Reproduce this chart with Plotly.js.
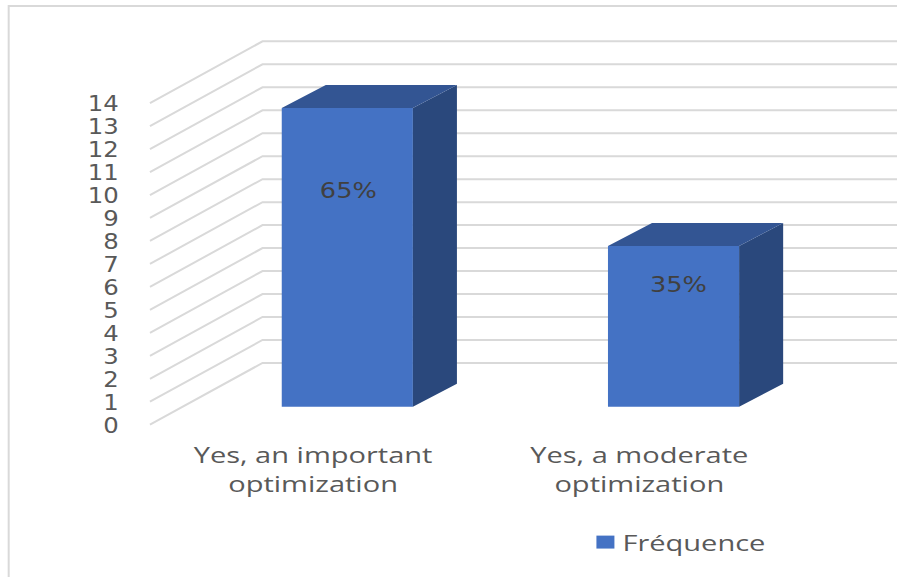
<!DOCTYPE html>
<html>
<head>
<meta charset="utf-8">
<script src="https://cdn.plot.ly/plotly-3.0.1.min.js"></script>
<style>html,body{margin:0;padding:0;background:#fff}#chart{width:897px;height:577px}</style>
</head>
<body>
<div id="chart"></div>
<script>
const categories = ['Yes, an important<br>optimization', 'Yes, a moderate<br>optimization'];
const frequencies = [13, 7];
const valueTicks = [0, 1, 2, 3, 4, 5, 6, 7, 8, 9, 10, 11, 12, 13, 14];
const seriesName = 'Fréquence';

// Oblique projection of the box, in axis units
const wallDx = 0.345, wallDy = 2.69;     // front plane to back wall
const barDx = 0.135, barDy = 1.0;        // depth of each column
const floorDx = 0.105, floorDy = 0.785;  // front plane to column base
const barWidth = 0.402;
const xMax = 1.79, yMax = 18.49;
const family = 'Open Sans';
const digitFamily = 'DejaVu Sans';

const total = frequencies.reduce((a, b) => a + b, 0);
const positions = categories.map((_, i) => i);
const lefts = positions.map(p => p + floorDx - barWidth / 2);
const rights = lefts.map(l => l + barWidth);

// Shaded faces of a column, as closed polygons separated by gaps
function facePolygons(corners) {
  const xs = [], ys = [];
  frequencies.forEach((v, i) => {
    corners(i, v).forEach(([x, y]) => { xs.push(x); ys.push(y); });
    xs.push(null); ys.push(null);
  });
  return {x: xs, y: ys};
}
const topFace = facePolygons((i, v) => {
  const y = floorDy + v;
  return [[lefts[i], y], [rights[i], y], [rights[i] + barDx, y + barDy], [lefts[i] + barDx, y + barDy], [lefts[i], y]];
});
const sideFace = facePolygons((i, v) => {
  const y = floorDy + v;
  return [[rights[i], floorDy], [rights[i], y], [rights[i] + barDx, y + barDy], [rights[i] + barDx, floorDy + barDy], [rights[i], floorDy]];
});

const front = {
  type: 'bar', name: seriesName, x: positions, y: frequencies,
  base: floorDy, width: barWidth, offset: floorDx - barWidth / 2,
  marker: {color: '#4472c4', line: {width: 0}}, hoverinfo: 'skip'
};
const top3d = {
  type: 'scatter', mode: 'lines', x: topFace.x, y: topFace.y, fill: 'toself',
  fillcolor: '#335593', line: {width: 0, color: '#335593'}, showlegend: false, hoverinfo: 'skip'
};
const side3d = {
  type: 'scatter', mode: 'lines', x: sideFace.x, y: sideFace.y, fill: 'toself',
  fillcolor: '#2a487c', line: {width: 0, color: '#2a487c'}, showlegend: false, hoverinfo: 'skip'
};
const percentLabels = {
  type: 'scatter', mode: 'text',
  x: positions.map((p, i) => p + floorDx + (i ? 0.015 : 0.003)),
  y: [10.1, 6.02],
  text: frequencies.map(v => Math.round(v / total * 100) + '%'),
  textposition: 'middle center',
  textfont: {family: digitFamily, size: 21, color: '#404040'},
  showlegend: false, hoverinfo: 'skip', cliponaxis: false
};

// Wall and floor rules running back from the value axis
const rules = valueTicks.map(v => ({
  type: 'path', layer: 'below', xref: 'x', yref: 'y',
  path: `M -0.5 ${v} L ${-0.5 + wallDx} ${v + wallDy} L ${xMax} ${v + wallDy}`,
  line: {color: '#d9d9d9', width: 2}
}));
const frame = {
  type: 'path', layer: 'below', xref: 'paper', yref: 'paper',
  path: 'M -0.186 -0.36 L -0.186 0.986 L 1.01 0.986',
  line: {color: '#d9d9d9', width: 2}
};

// Widen the lettering around each label's own anchor point
function widen(selector, factor, dy) {
  document.querySelectorAll(selector).forEach(t => {
    const x = parseFloat(t.getAttribute('x')) || 0;
    const prior = t.getAttribute('transform') || '';
    t.setAttribute('transform', `${prior} translate(${x},${dy || 0}) scale(${factor},1) translate(${-x},0)`);
  });
}

Plotly.newPlot('chart', [front, side3d, top3d, percentLabels], {
  width: 897, height: 577,
  margin: {l: 148, r: 0, t: 0, b: 150, pad: 0},
  paper_bgcolor: '#ffffff', plot_bgcolor: '#ffffff',
  font: {family: family, size: 22, color: '#595959'},
  xaxis: {
    range: [-0.506, xMax], tickmode: 'array', tickvals: positions, ticktext: categories,
    showgrid: false, zeroline: false, showline: false, fixedrange: true,
    ticks: 'outside', ticklen: 9, tickcolor: 'rgba(0,0,0,0)', tickangle: 0,
    tickfont: {family: family, size: 22, color: '#595959'}
  },
  yaxis: {
    range: [-0.1, yMax], tickmode: 'array', tickvals: valueTicks, ticktext: valueTicks.map(String),
    showgrid: false, zeroline: false, showline: false, fixedrange: true,
    ticks: 'outside', ticklen: 24, tickcolor: 'rgba(0,0,0,0)',
    tickfont: {family: digitFamily, size: 21, color: '#595959'}
  },
  shapes: rules.concat([frame]),
  showlegend: true,
  legend: {
    x: 0.58, xanchor: 'left', y: -0.27, yanchor: 'middle',
    font: {family: family, size: 22, color: '#595959'},
    bgcolor: 'rgba(0,0,0,0)', itemwidth: 30
  }
}, {displayModeBar: false, staticPlot: true}).then(() => {
  widen('.xtick text', 1.32);
  widen('.ytick text', 1.16, 1);
  widen('.scatterlayer .textpoint text', 1.22);
  widen('.legend text', 1.32);
  document.querySelectorAll('.legend .scrollbox').forEach(g => g.removeAttribute('clip-path'));
  document.querySelectorAll('.legend .legendpoints path').forEach(p => {
    const prior = p.getAttribute('transform') || '';
    p.setAttribute('transform', `${prior} translate(3,0) scale(1.5,1.08)`);
  });
});
</script>
</body>
</html>
